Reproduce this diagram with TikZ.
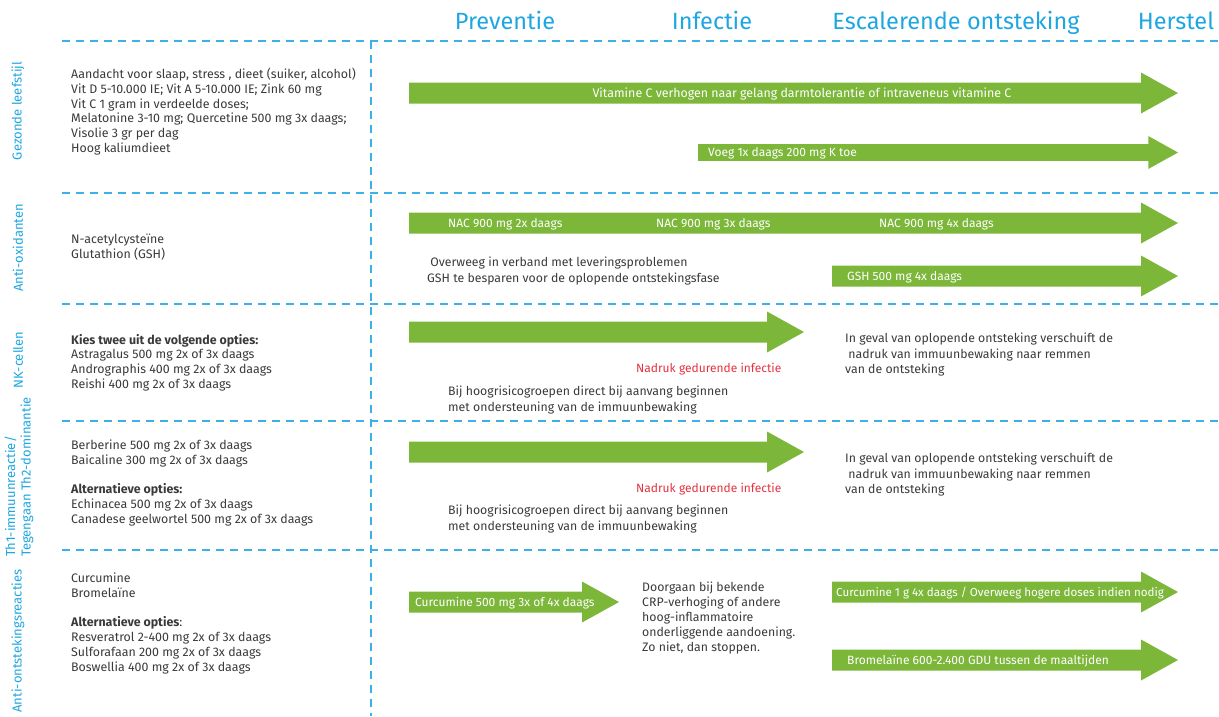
\documentclass[tikz,border=0pt]{standalone}
\usepackage{fontspec}
\setmainfont{Fira Sans}
\usetikzlibrary{positioning}
\definecolor{schemablauw}{HTML}{1FA6E0}
\definecolor{lijnblauw}{HTML}{3DB0E8}
\definecolor{schemagroen}{HTML}{7CB73A}
\definecolor{schemagrijs}{HTML}{3A3A3A}
\definecolor{schemarood}{HTML}{E5323F}

% groene pijl: [schaal]{begin x}{punt x}{midden y}
\newcommand{\pijl}[4][1]{%
  \fill[schemagroen] (#2,#4-10.5*#1) -- (#3-37*#1,#4-10.5*#1) -- (#3-37*#1,#4-20.5*#1)
    -- (#3,#4) -- (#3-37*#1,#4+20.5*#1) -- (#3-37*#1,#4+10.5*#1) -- (#2,#4+10.5*#1) -- cycle;}

\begin{document}
\begin{tikzpicture}[
  x=1pt, y=-1pt,
  fase/.style={font=\fontsize{23.5}{28}\selectfont,text=schemablauw,anchor=base,inner sep=0},
  rij/.style={font=\fontsize{13}{15.5}\selectfont,text=schemablauw,rotate=90,inner sep=0,align=left},
  lijst/.style={font=\fontsize{12.4}{14.7}\selectfont,text=schemagrijs,anchor=north west,inner sep=0,align=left},
  noot/.style={lijst,font=\fontsize{12.3}{15.5}\selectfont},
  wit/.style={font=\fontsize{12}{14}\selectfont,text=white,anchor=west,inner sep=0,
              text height=9pt,text depth=1pt},
  accent/.style={wit,text=schemarood},
  grens/.style={draw=lijnblauw,line width=1.3pt,dash pattern=on 8pt off 6pt}
]
\useasboundingbox (0,0) rectangle (1219,716);

% fasen
\node[fase] (preventie) at (505,29) {Preventie};
\node[fase] (infectie) at (712,29) {Infectie};
\node[fase] (escalatie) at (956,29) {Escalerende ontsteking};
\node[fase] (herstel) at (1176,29) {Herstel};

% rasterlijnen
\foreach \y in {41,193,304,421,550}
  \draw[grens] (62,\y) -- (1219,\y);
\draw[grens] (371,41) -- (371,716);

% rijkoppen
\node[rij] (leefstijl) at (18,111) {Gezonde leefstijl};
\node[rij] (antioxidanten) at (18,248) {Anti-oxidanten};
\node[rij] (nkcellen) at (18,360) {NK-cellen};
\node[rij] (th1) at (19,477) {Th1-immuunreactie/\\Tegengaan Th2-dominantie};
\node[rij] (ontsteking) at (18,641) {Anti-ontstekingsreacties};

% linker kolom
\node[lijst] (leefstijlopties) at (71,68) {Aandacht voor slaap, stress , dieet (suiker, alcohol)\\
  Vit D 5-10.000 IE; Vit A 5-10.000 IE; Zink 60 mg\\
  Vit C 1 gram in verdeelde doses;\\
  Melatonine 3-10 mg; Quercetine 500 mg 3x daags;\\
  Visolie 3 gr per dag\\
  Hoog kaliumdieet};
\node[lijst] (antioxopties) at (71,234) {N-acetylcysteïne\\Glutathion (GSH)};
\node[lijst] (nkopties) at (71,334) {\textbf{Kies twee uit de volgende opties:}\\
  Astragalus 500 mg 2x of 3x daags\\
  Andrographis 400 mg 2x of 3x daags\\
  Reishi 400 mg 2x of 3x daags};
\node[lijst] (th1opties) at (71,440) {Berberine 500 mg 2x of 3x daags\\
  Baicaline 300 mg 2x of 3x daags\\[14.7pt]
  \textbf{Alternatieve opties:}\\
  Echinacea 500 mg 2x of 3x daags\\
  Canadese geelwortel 500 mg 2x of 3x daags};
\node[lijst] (ontstopties) at (71,573) {Curcumine\\
  Bromelaïne\\[14.7pt]
  \textbf{Alternatieve opties}:\\
  Resveratrol 2-400 mg 2x of 3x daags\\
  Sulforafaan 200 mg 2x of 3x daags\\
  Boswellia 400 mg 2x of 3x daags};

% gezonde leefstijl
\pijl{409}{1178}{93}
\node[wit,anchor=center,font=\fontsize{12.4}{14}\selectfont] (vitc) at (802,93) {Vitamine C verhogen naar gelang darmtolerantie of intraveneus vitamine C};
\pijl[0.8]{698}{1178}{152.5}
\node[wit] (kalium) at (708,152.5) {Voeg 1x daags 200 mg K toe};

% anti-oxidanten
\pijl{409}{1178}{223}
\node[wit] (nac2) at (448,223) {NAC 900 mg 2x daags};
\node[wit] (nac3) at (656,223) {NAC 900 mg 3x daags};
\node[wit] (nac4) at (879,223) {NAC 900 mg 4x daags};
\node[noot] (gshnoot) at (427,257) {\ Overweeg in verband met leveringsproblemen\\
  GSH te besparen voor de oplopende ontstekingsfase};
\pijl{832}{1178}{276}
\node[wit] (gsh) at (847,276) {GSH 500 mg 4x daags};

% NK-cellen
\pijl{409}{804}{332}
\node[accent] (nadruknk) at (636,368) {Nadruk gedurende infectie};
\node[noot] (verschuivingnk) at (845,333) {In geval van oplopende ontsteking verschuift de\\
  \ nadruk van immuunbewaking naar remmen\\
  van de ontsteking};
\node[noot] (risiconk) at (448,386) {Bij hoogrisicogroepen direct bij aanvang beginnen\\
  met ondersteuning van de immuunbewaking};

% Th1 / Th2
\pijl{409}{804}{452}
\node[accent] (nadrukth) at (636,488) {Nadruk gedurende infectie};
\node[noot] (verschuivingth) at (845,453) {In geval van oplopende ontsteking verschuift de\\
  \ nadruk van immuunbewaking naar remmen\\
  van de ontsteking};
\node[noot] (risicoth) at (448,505) {Bij hoogrisicogroepen direct bij aanvang beginnen\\
  met ondersteuning van de immuunbewaking};

% anti-ontstekingsreacties
\pijl{409}{619}{602}
\node[wit] (curcumine) at (415,602) {Curcumine 500 mg 3x of 4x daags};
\node[noot,font=\fontsize{12.3}{15}\selectfont] (doorgaan) at (642,582) {Doorgaan bij bekende\\
  CRP-verhoging of andere\\
  hoog-inflammatoire\\
  onderliggende aandoening.\\
  Zo niet, dan stoppen.};
\pijl{832}{1178}{592}
\node[wit,font=\fontsize{11.6}{14}\selectfont] (curcuminehoog) at (836,592) {Curcumine 1 g 4x daags / Overweeg hogere doses indien nodig};
\pijl{832}{1178}{660}
\node[wit] (bromelaine) at (847,660) {Bromelaïne 600-2.400 GDU tussen de maaltijden};
\end{tikzpicture}
\end{document}
